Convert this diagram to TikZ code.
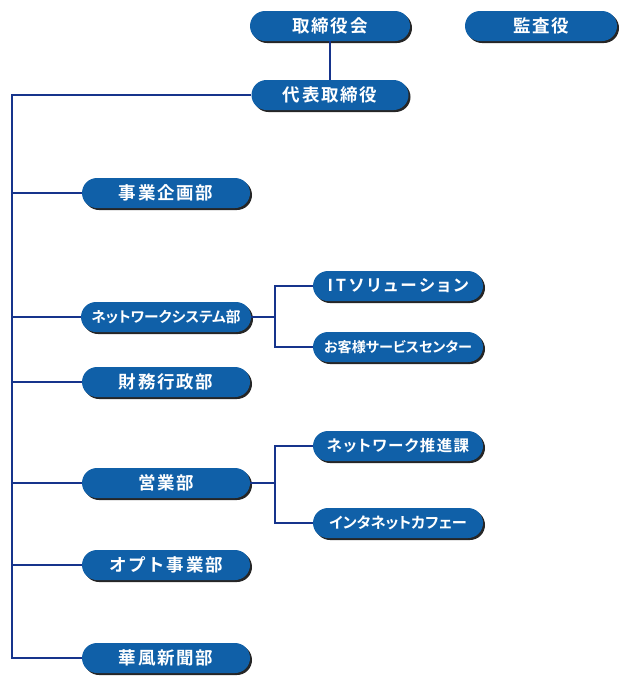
\documentclass[tikz,border=0pt]{standalone}
\usepackage{fontspec}
\usepackage{tikz}
\usetikzlibrary{positioning,shadows}
\newfontfamily\jp[RawFeature=+palt, BoldFont={Noto Sans CJK JP Bold}]{Noto Sans CJK JP}
\newfontfamily\jpmid[RawFeature=+palt, LetterSpace=9, BoldFont={Noto Sans CJK JP Bold}]{Noto Sans CJK JP}
\newfontfamily\jpspread[RawFeature=+palt, LetterSpace=17, BoldFont={Noto Sans CJK JP Bold}]{Noto Sans CJK JP}
\newfontfamily\jpwide[LetterSpace=10, BoldFont={Noto Sans CJK JP Bold}]{Noto Sans CJK JP}
\definecolor{postblue}{RGB}{16,96,168}
\definecolor{linkblue}{RGB}{22,52,140}
\tikzstyle{post}=[draw=none, fill=postblue, text=white, rounded corners=15pt, minimum width=168pt, minimum height=30pt, inner sep=0pt, drop shadow={shadow xshift=2pt, shadow yshift=-2pt, fill=black, opacity=0.85}, font=\jpwide\bfseries\fontsize{17.5}{17.5}\selectfont]
\tikzstyle{longpost}=[post, minimum width=170pt, font=\jp\bfseries\fontsize{14.5}{14.5}\selectfont]
\tikzstyle{link}=[draw=linkblue, line width=1.6pt]

\begin{document}
\begin{tikzpicture}[x=1pt, y=-1pt]
                        \useasboundingbox (0,0) rectangle (623,686);
                        % top
                        \node [post, minimum width=160pt] (board) at (330,26) {取締役会};
                        \node [post, minimum width=152pt] (audit) at (541,26) {監査役};
                        \node [post, minimum width=157pt] (ceo) at (330,95) {代表取締役};
                        % departments
                        \node [post] (plan) at (166,193) {事業企画部};
                        \node [longpost, font=\jp\bfseries\fontsize{14.7}{14.7}\selectfont] (net) at (166,317) {ネットワークシステム部};
                        \node [post] (fin) at (166,382) {財務行政部};
                        \node [post] (sales) at (166,483) {営業部};
                        \node [post] (opt) at (166,565) {オプト事業部};
                        \node [post] (news) at (166,658) {華風新聞部};
                        % sections
                        \node [longpost, font=\jpspread\bfseries\fontsize{16.5}{16.5}\selectfont] (it) at (398,286) {ITソリューション};
                        \node [longpost, font=\jp\bfseries\fontsize{14.1}{14.1}\selectfont] (svc) at (398,347) {お客様サービスセンター};
                        \node [longpost, font=\jpmid\bfseries\fontsize{15.5}{15.5}\selectfont] (netpro) at (398,446) {ネットワーク推進課};
                        \node [longpost, font=\jp\bfseries\fontsize{15.2}{15.2}\selectfont] (cafe) at (398,523) {インタネットカフェー};
                        \coordinate (top) at (12,95);
                        \coordinate (netfork) at (275,317);
                        \coordinate (salesfork) at (275,483);
                        \path[link] (board) edge (ceo);
                        \draw[link] (ceo.west) -- (top) |- (news.west);
                        \foreach \d in {plan,net,fin,sales,opt}
                            \draw[link] (top) |- (\d.west);
                        \draw[link] (net.east) -- (netfork);
                        \draw[link] (netfork) |- (it.west);
                        \draw[link] (netfork) |- (svc.west);
                        \draw[link] (sales.east) -- (salesfork);
                        \draw[link] (salesfork) |- (netpro.west);
                        \draw[link] (salesfork) |- (cafe.west);
                    \end{tikzpicture}
\end{document}
